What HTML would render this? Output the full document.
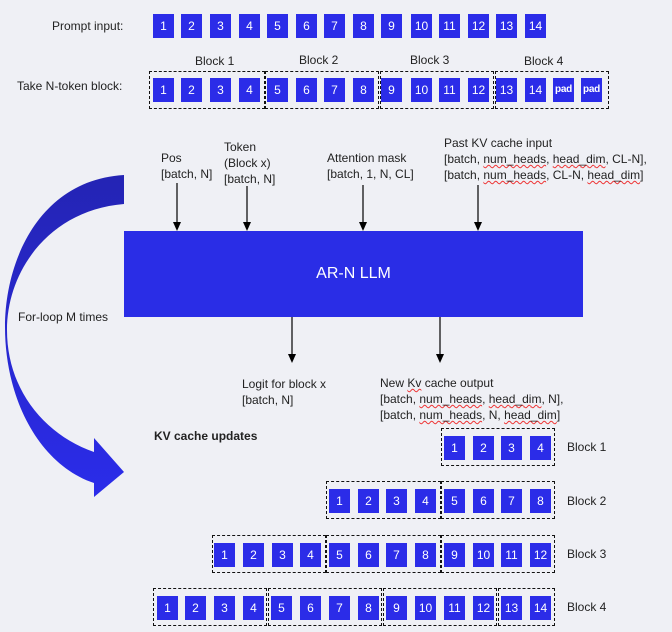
<!DOCTYPE html>
<html><head><meta charset="utf-8"><style>
body{margin:0;width:672px;height:632px;background:#eff0f5;position:relative;overflow:hidden;font-family:"Liberation Sans",sans-serif;color:#222;}
.t{position:absolute;font-size:12px;line-height:16px;white-space:nowrap;}
.s{position:absolute;width:21px;height:24px;background:#2b2ce8;color:#fff;font-size:12px;line-height:24px;text-align:center;}
.p{font-size:10px;font-weight:bold;letter-spacing:-0.3px;}
.b{position:absolute;border:1px dashed #111;box-sizing:border-box;}
.r1 .s{top:14px}.r2 .s{top:78px}.k1 .s{top:436px}.k2 .s{top:489px}.k3 .s{top:543px}.k4 .s{top:596px}
.u{text-decoration:underline wavy #e33;text-decoration-thickness:1px;}
</style></head><body>
<div class="t" style="left:52px;top:18px">Prompt input:</div>
<div class="t" style="left:17px;top:78px">Take N-token block:</div>
<div class="r1">
<div class="s" style="left:153px">1</div><div class="s" style="left:181px">2</div><div class="s" style="left:210px">3</div><div class="s" style="left:239px">4</div><div class="s" style="left:267px">5</div><div class="s" style="left:296px">6</div><div class="s" style="left:324px">7</div><div class="s" style="left:353px">8</div><div class="s" style="left:381px">9</div><div class="s" style="left:411px">10</div><div class="s" style="left:439px">11</div><div class="s" style="left:468px">12</div><div class="s" style="left:496px">13</div><div class="s" style="left:525px">14</div>
</div>
<div class="t" style="left:195px;top:53px">Block 1</div><div class="t" style="left:299px;top:52px">Block 2</div><div class="t" style="left:410px;top:52px">Block 3</div><div class="t" style="left:524px;top:53px">Block 4</div>
<div class="b" style="left:149px;top:71px;width:116px;height:38px"></div><div class="b" style="left:265px;top:71px;width:114px;height:38px"></div><div class="b" style="left:380px;top:71px;width:114px;height:38px"></div><div class="b" style="left:495px;top:71px;width:114px;height:38px"></div>
<div class="r2">
<div class="s" style="left:153px">1</div><div class="s" style="left:181px">2</div><div class="s" style="left:210px">3</div><div class="s" style="left:239px">4</div><div class="s" style="left:267px">5</div><div class="s" style="left:296px">6</div><div class="s" style="left:324px">7</div><div class="s" style="left:353px">8</div><div class="s" style="left:381px">9</div><div class="s" style="left:411px">10</div><div class="s" style="left:439px">11</div><div class="s" style="left:468px">12</div><div class="s" style="left:496px">13</div><div class="s" style="left:525px">14</div><div class="s p" style="left:553px">pad</div><div class="s p" style="left:581px">pad</div>
</div>
<svg style="position:absolute;left:0;top:0" width="672" height="632">
<defs><linearGradient id="g" x1="0" y1="0" x2="0" y2="1"><stop offset="0" stop-color="#2424b4"/><stop offset="1" stop-color="#2b2cea"/></linearGradient>
<marker id="a" markerWidth="8" markerHeight="8" refX="4" refY="7" orient="auto" markerUnits="userSpaceOnUse"><path d="M0,0 L8,0 L4,8Z" fill="#000" transform="rotate(-90 4 4) "/></marker></defs>
<path d="M124,175 C40,180 5,260 5,327 C5,400 40,465 94,483 L94,497 L124,472 L94,438 L94,452 C45,435 7,390 7,330 C7,270 50,210 124,204 Z" fill="url(#g)"/>
<g stroke="#000" stroke-width="1.2">
<line x1="177" y1="183" x2="177" y2="224"/><line x1="247" y1="186" x2="247" y2="224"/><line x1="363" y1="185" x2="363" y2="224"/><line x1="478" y1="185" x2="478" y2="224"/>
<line x1="292" y1="317" x2="292" y2="355"/><line x1="440" y1="317" x2="440" y2="355"/></g>
<g fill="#000"><path d="M173,222h8l-4,9z"/><path d="M243,222h8l-4,9z"/><path d="M359,222h8l-4,9z"/><path d="M474,222h8l-4,9z"/><path d="M288,354h8l-4,9z"/><path d="M436,354h8l-4,9z"/></g>
</svg>
<div style="position:absolute;left:124px;top:231px;width:459px;height:86px;background:#2a2de6;color:#fff;font-size:16px;line-height:86px;text-align:center">AR-N LLM</div>
<div class="t" style="left:161px;top:150px">Pos<br>[batch, N]</div>
<div class="t" style="left:224px;top:139px">Token<br>(Block x)<br>[batch, N]</div>
<div class="t" style="left:327px;top:150px">Attention mask<br>[batch, 1, N, CL]</div>
<div class="t" style="left:444px;top:135px">Past KV cache input<br>[batch, <span class="u">num_heads</span>, <span class="u">head_dim</span>, CL-N],<br>[batch, <span class="u">num_heads</span>, CL-N, <span class="u">head_dim</span>]</div>
<div class="t" style="left:18px;top:309px">For-loop M times</div>
<div class="t" style="left:242px;top:376px">Logit for block x<br>[batch, N]</div>
<div class="t" style="left:380px;top:375px">New <span class="u">Kv</span> cache output<br>[batch, <span class="u">num_heads</span>, <span class="u">head_dim</span>, N],<br>[batch, <span class="u">num_heads</span>, N, <span class="u">head_dim</span>]</div>
<div class="t" style="left:154px;top:428px;font-weight:bold">KV cache updates</div>
<div class="t" style="left:567px;top:439px">Block 1</div><div class="t" style="left:567px;top:493px">Block 2</div><div class="t" style="left:567px;top:546px">Block 3</div><div class="t" style="left:567px;top:599px">Block 4</div>
<div class="b" style="left:441px;top:428px;width:114px;height:38px"></div>
<div class="b" style="left:326px;top:481px;width:115px;height:38px"></div><div class="b" style="left:441px;top:481px;width:114px;height:38px"></div>
<div class="b" style="left:212px;top:535px;width:114px;height:38px"></div><div class="b" style="left:326px;top:535px;width:115px;height:38px"></div><div class="b" style="left:441px;top:535px;width:114px;height:38px"></div>
<div class="b" style="left:153px;top:588px;width:114px;height:38px"></div><div class="b" style="left:268px;top:588px;width:114px;height:38px"></div><div class="b" style="left:383px;top:588px;width:114px;height:38px"></div><div class="b" style="left:498px;top:588px;width:57px;height:38px"></div>
<div class="k1"><div class="s" style="left:444px">1</div><div class="s" style="left:473px">2</div><div class="s" style="left:501px">3</div><div class="s" style="left:530px">4</div></div>
<div class="k2"><div class="s" style="left:329px">1</div><div class="s" style="left:358px">2</div><div class="s" style="left:386px">3</div><div class="s" style="left:415px">4</div><div class="s" style="left:444px">5</div><div class="s" style="left:473px">6</div><div class="s" style="left:501px">7</div><div class="s" style="left:530px">8</div></div>
<div class="k3"><div class="s" style="left:214px">1</div><div class="s" style="left:243px">2</div><div class="s" style="left:272px">3</div><div class="s" style="left:300px">4</div><div class="s" style="left:329px">5</div><div class="s" style="left:358px">6</div><div class="s" style="left:386px">7</div><div class="s" style="left:415px">8</div><div class="s" style="left:444px">9</div><div class="s" style="left:473px">10</div><div class="s" style="left:501px">11</div><div class="s" style="left:530px">12</div></div>
<div class="k4"><div class="s" style="left:157px">1</div><div class="s" style="left:185px">2</div><div class="s" style="left:214px">3</div><div class="s" style="left:243px">4</div><div class="s" style="left:271px">5</div><div class="s" style="left:300px">6</div><div class="s" style="left:329px">7</div><div class="s" style="left:358px">8</div><div class="s" style="left:386px">9</div><div class="s" style="left:415px">10</div><div class="s" style="left:444px">11</div><div class="s" style="left:473px">12</div><div class="s" style="left:501px">13</div><div class="s" style="left:530px">14</div></div>
</body></html>
